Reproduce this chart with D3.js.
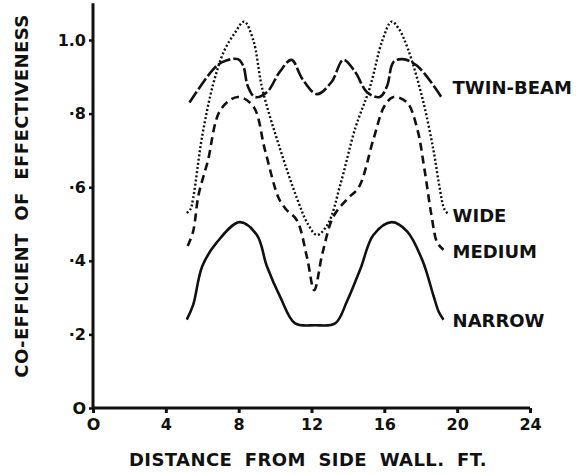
<!DOCTYPE html>
<html>
<head>
<meta charset="utf-8">
<script src="https://cdn.jsdelivr.net/npm/d3@7"></script>
<style>
  body { margin: 0; background: #fff; }
  text { font-family: "DejaVu Sans", sans-serif; font-weight: bold; fill: #111; }
</style>
</head>
<body>
<div id="wrapper"></div>
<script>
// distances (ft) and coefficients
const twinX = [5.3, 6.6, 7.1, 7.95, 8.25, 8.5, 8.9, 9.55, 10.25, 10.9, 11.5, 12.3, 13.1, 13.75, 14.4, 15.05, 15.75, 16.15, 16.5, 17.0, 17.8, 19.2]
const twinY = [0.83, 0.92, 0.94, 0.948, 0.93, 0.875, 0.845, 0.858, 0.913, 0.946, 0.894, 0.853, 0.886, 0.946, 0.913, 0.858, 0.845, 0.875, 0.94, 0.948, 0.93, 0.84]

const wideX = [5.15, 5.35, 5.5, 6.0, 6.6, 7.2, 7.8, 8.3, 8.8, 9.3, 10.3, 11.2, 11.8, 12.3, 12.9, 13.6, 14.4, 15.2, 15.9, 16.4, 16.8, 17.3, 18.1, 18.7, 19.05, 19.3, 19.55]
const wideY = [0.53, 0.54, 0.57, 0.74, 0.88, 0.97, 1.02, 1.05, 1.0, 0.867, 0.70, 0.57, 0.50, 0.47, 0.5, 0.61, 0.76, 0.87, 1.0, 1.05, 1.03, 0.975, 0.84, 0.70, 0.595, 0.54, 0.525]

const mediumX = [5.2, 5.5, 5.8, 6.3, 7.0, 7.95, 8.8, 9.45, 10.2, 10.6, 11.2, 11.75, 12.15, 12.6, 13.2, 14.0, 14.6, 15.4, 16.0, 16.5, 17.25, 17.8, 18.2, 18.6, 18.9, 19.25]
const mediumY = [0.44, 0.48, 0.58, 0.67, 0.81, 0.845, 0.82, 0.70, 0.57, 0.54, 0.51, 0.41, 0.32, 0.42, 0.52, 0.57, 0.60, 0.73, 0.82, 0.845, 0.83, 0.76, 0.65, 0.52, 0.45, 0.43]

const narrowX = [5.15, 5.5, 6.0, 6.8, 8.05, 9.0, 9.55, 10.3, 11.1, 12.2, 13.3, 13.95, 14.7, 15.4, 16.4, 17.25, 18.1, 18.7, 19.0, 19.25]
const narrowY = [0.24, 0.28, 0.385, 0.45, 0.505, 0.47, 0.385, 0.30, 0.23, 0.225, 0.23, 0.29, 0.38, 0.47, 0.505, 0.48, 0.40, 0.305, 0.26, 0.24]

const seriesNames = ["TWIN-BEAM", "WIDE", "MEDIUM", "NARROW"]
const labelY = [0.87, 0.524, 0.424, 0.239]

const xTicks = [0, 4, 8, 12, 16, 20, 24]
const yTicks = [0, 0.2, 0.4, 0.6, 0.8, 1.0]
const yTickLabels = ["O", "·2", "·4", "·6", "·8", "1.0"]

const zip = (xs, ys) => xs.map((x, i) => ({ x, y: ys[i] }))
const series = [
  { name: seriesNames[0], points: zip(twinX, twinY), dash: "13,3", width: 2.6 },
  { name: seriesNames[1], points: zip(wideX, wideY), dash: "2,2.2", width: 2.4 },
  { name: seriesNames[2], points: zip(mediumX, mediumY), dash: "8,5", width: 2.6 },
  { name: seriesNames[3], points: zip(narrowX, narrowY), dash: null, width: 2.6 },
]

const dimensions = {
  width: 585,
  height: 475,
  margin: { top: 5, right: 55, bottom: 67, left: 93 },
}
dimensions.boundedWidth = dimensions.width - dimensions.margin.left - dimensions.margin.right
dimensions.boundedHeight = dimensions.height - dimensions.margin.top - dimensions.margin.bottom

const xScale = d3.scaleLinear()
    .domain([0, 24])
    .range([0, 437])

const yScale = d3.scaleLinear()
    .domain([0, 1.1])
    .range([dimensions.boundedHeight, dimensions.boundedHeight - 1.1 * 368])

const lineGenerator = d3.line()
    .x(d => xScale(d.x))
    .y(d => yScale(d.y))
    .curve(d3.curveCatmullRom.alpha(0.5))

const svg = d3.select("#wrapper")
  .append("svg")
    .attr("width", dimensions.width)
    .attr("height", dimensions.height)

const bounds = svg.append("g")
    .attr("transform", `translate(${dimensions.margin.left}, ${dimensions.margin.top})`)

// axes
const xAxis = bounds.append("g")
    .attr("transform", `translate(0, ${dimensions.boundedHeight})`)
    .call(d3.axisBottom(xScale).tickValues(xTicks).tickSize(5).tickPadding(6).tickFormat(d => d === 0 ? "O" : d))
xAxis.select(".domain").attr("stroke", "#111").attr("stroke-width", 3).attr("d", `M0,0H${xScale(24)}`)
xAxis.selectAll(".tick line").attr("stroke", "#111").attr("stroke-width", 3).attr("y1", 0)
xAxis.selectAll(".tick text").style("font-size", "16px").attr("font-family", null).attr("fill", "#111")

const yAxis = bounds.append("g")
    .call(d3.axisLeft(yScale).tickValues(yTicks).tickSize(4).tickPadding(3)
      .tickFormat((d, i) => yTickLabels[i]))
yAxis.select(".domain").attr("stroke", "#111").attr("stroke-width", 3).attr("d", `M0,${yScale(0)}V${yScale(1.1)}`)
yAxis.selectAll(".tick line").attr("stroke", "#111").attr("stroke-width", 2.5)
yAxis.selectAll(".tick text").style("font-size", "16px").attr("font-family", null).attr("fill", "#111")

// curves
bounds.selectAll(".curve")
  .data(series)
  .join("path")
    .attr("class", "curve")
    .attr("d", d => lineGenerator(d.points))
    .attr("fill", "none")
    .attr("stroke", "#111")
    .attr("stroke-width", d => d.width)
    .attr("stroke-dasharray", d => d.dash)
    .attr("stroke-linecap", "butt")

// series labels
bounds.selectAll(".label")
  .data(series)
  .join("text")
    .attr("class", "label")
    .attr("x", xScale(19.2) + 10)
    .attr("y", (d, i) => yScale(labelY[i]))
    .attr("dy", "0.36em")
    .style("font-size", "18px")
    .text(d => d.name)

// axis titles
svg.append("text")
    .attr("x", 308)
    .attr("y", 466)
    .attr("text-anchor", "middle")
    .style("font-size", "18px")
    .style("letter-spacing", "0.4px")
    .style("word-spacing", "6px")
    .text("DISTANCE FROM SIDE WALL. FT.")

svg.append("text")
    .attr("transform", "translate(28, 196) rotate(-90)")
    .attr("text-anchor", "middle")
    .style("font-size", "18px")
    .style("letter-spacing", "0.4px")
    .style("word-spacing", "6px")
    .text("CO-EFFICIENT OF EFFECTIVENESS")
</script>
</body>
</html>
